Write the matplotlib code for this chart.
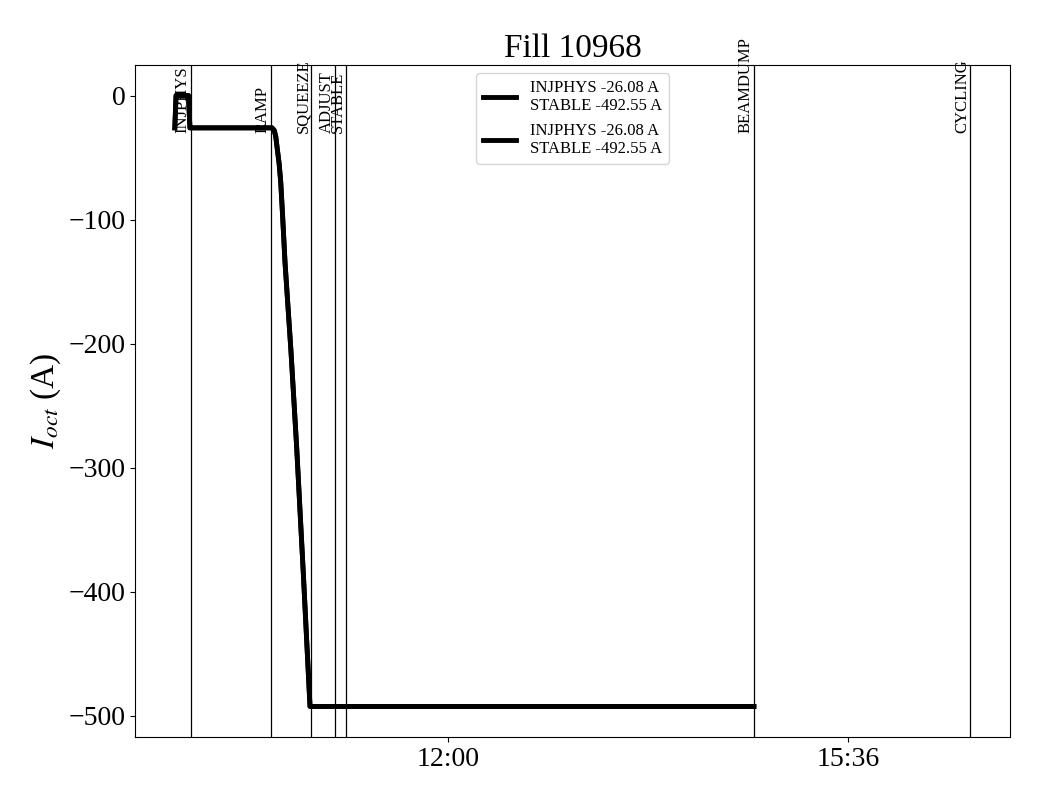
import matplotlib
matplotlib.use("Agg")
import matplotlib.pyplot as plt
import matplotlib.dates as mdates
import pandas as pd

plt.rcParams['font.family'] = ['Liberation Serif', 'DejaVu Serif']
plt.rcParams['mathtext.fontset'] = 'stix'

DAY = "2025-07-20 "

# Octupole current trace
trace_times = ["09:32:30", "09:33:10", "09:39:50", "09:40:40", "10:25:00", "10:26:10",
               "10:27:00", "10:27:48", "10:28:50", "10:29:42", "10:30:42", "10:32:00",
               "10:35:12", "10:38:18", "10:41:54", "10:45:30", "14:45:12"]
trace_values = [-26.08, 0.0, 0.0, -26.08, -26.08, -28.0,
                -33.0, -42.7, -55.0, -69.9, -96.8, -134.4,
                -205.6, -283.6, -385.6, -492.55, -492.55]

# Beam mode transitions
mode_names = ["INJPHYS", "RAMP", "SQUEEZE", "ADJUST", "STABLE", "BEAMDUMP", "CYCLING"]
mode_times = ["09:41:00", "10:24:24", "10:46:00", "10:58:48", "11:04:54", "14:45:12", "16:41:54"]

legend_label = "INJPHYS -26.08 A\nSTABLE -492.55 A"
tick_times = ["12:00", "15:36"]
title = "Fill 10968"

t = pd.to_datetime([DAY + s for s in trace_times])
mt = pd.to_datetime([DAY + s for s in mode_times])
ticks = pd.to_datetime([DAY + s for s in tick_times])

fig = plt.figure(figsize=(10.4, 8), dpi=100)
ax = fig.add_axes([0.1298, 0.07875, 0.8414, 0.84])

ax.plot(t, trace_values, color='black', lw=3.5, label=legend_label)
ax.plot(t, trace_values, color='black', lw=3.5, label=legend_label)

for name, tm in zip(mode_names, mt):
    ax.axvline(tm, color='black', lw=0.9)
    ax.text(tm, -30, name, rotation=90, ha='right', va='bottom', fontsize=12)

ax.set_xlim(pd.Timestamp(DAY + "09:11:00"), pd.Timestamp(DAY + "17:03:30"))
ax.set_ylim(-517.2, 24.6)
ax.set_xticks(ticks)
ax.xaxis.set_major_formatter(mdates.DateFormatter('%H:%M'))
ax.tick_params(labelsize=20)
ax.set_ylabel(r'$I_{oct}$ (A)', fontsize=24)
ax.set_title(title, fontsize=24)
ax.legend(loc='upper center', fontsize=12)

fig.savefig("out.png", dpi=100)
